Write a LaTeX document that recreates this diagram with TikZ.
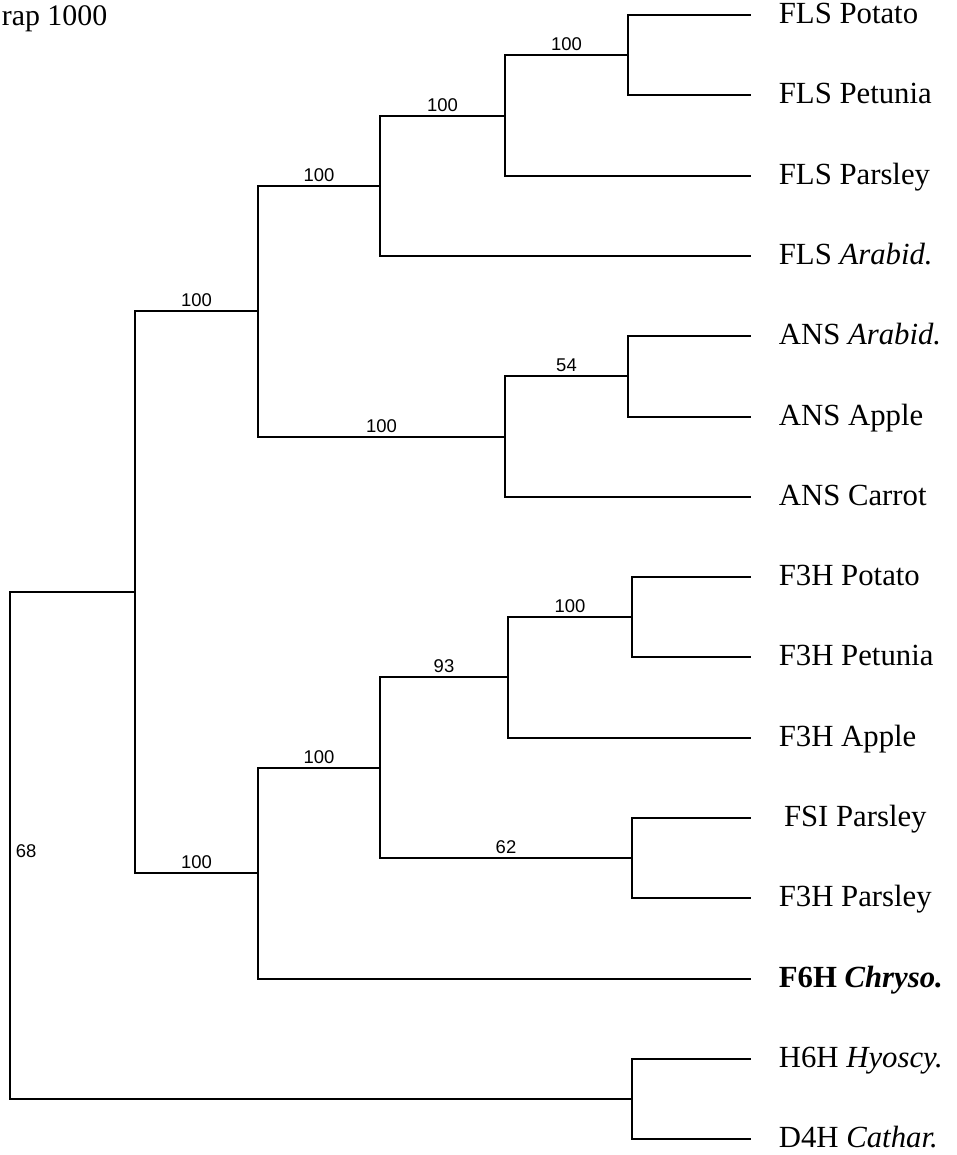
\documentclass[tikz,border=0pt]{standalone}
\usepackage{fontspec}
\setmainfont{Liberation Serif}
\newfontfamily\bootfont{Liberation Sans}
\begin{document}
\begin{tikzpicture}[
			x=0.02cm, y=-0.02cm, line width=1pt, line cap=rect,
			leaf/.style={anchor=west, inner xsep=0.56cm, inner ysep=0pt, text height=0.92em, text depth=0pt, font=\fontsize{17.5}{20}\selectfont},
			boot/.style={draw=none, above, inner sep=2pt, font=\bootfont\fontsize{10.5}{12}\selectfont},
		]
		\useasboundingbox (0, 0) rectangle (956, 1155);
		\node[anchor=base west, inner sep=0pt, font=\fontsize{17}{20}\selectfont] (title) at (1, 26) {rap 1000};

		\node[leaf] (flsPot) at (750, 15)   {FLS Potato};
		\node[leaf] (flsPet) at (750, 95)   {FLS Petunia};
		\node[leaf] (flsPar) at (750, 176)  {FLS Parsley};
		\node[leaf] (flsAra) at (750, 256)  {FLS \textit{Arabid.}};
		\node[leaf] (ansAra) at (750, 336)  {ANS \textit{Arabid.}};
		\node[leaf] (ansApp) at (750, 417)  {ANS Apple};
		\node[leaf] (ansCar) at (750, 497)  {ANS Carrot};
		\node[leaf] (fthPot) at (750, 577)  {F3H Potato};
		\node[leaf] (fthPet) at (750, 657)  {F3H Petunia};
		\node[leaf] (fthApp) at (750, 738)  {F3H Apple};
		\node[leaf] (fsiPar) at (750, 818)  {\,FSI Parsley};
		\node[leaf] (fthPar) at (750, 898)  {F3H Parsley};
		\node[leaf] (f6hChr) at (750, 979)  {\textbf{F6H \textit{Chryso.}}};
		\node[leaf] (h6hHyo) at (750, 1059) {H6H \textit{Hyoscy.}};
		\node[leaf] (d4hCat) at (750, 1139) {D4H \textit{Cathar.}};

		\coordinate (n1)   at (628, 55);
		\coordinate (n2)   at (505, 116);
		\coordinate (n3)   at (380, 186);
		\coordinate (n4)   at (628, 376);
		\coordinate (n5)   at (505, 437);
		\coordinate (n6)   at (258, 311);
		\coordinate (n7)   at (632, 617);
		\coordinate (n8)   at (508, 677);
		\coordinate (n9)   at (632, 858);
		\coordinate (n10)  at (380, 768);
		\coordinate (n11)  at (258, 873);
		\coordinate (n12)  at (135, 592);
		\coordinate (n13)  at (632, 1099);
		\coordinate (root) at (10, 846);

		% FLS clade
		\draw (n1) |- (flsPot);
		\draw (n1) |- (flsPet);
		\draw (n2) |- node[boot, pos=0.75] {100} (n1);
		\draw (n2) |- (flsPar);
		\draw (n3) |- node[boot, pos=0.75] {100} (n2);
		\draw (n3) |- (flsAra);
		\draw (n6) |- node[boot, pos=0.75] {100} (n3);

		% ANS clade
		\draw (n4) |- (ansAra);
		\draw (n4) |- (ansApp);
		\draw (n5) |- node[boot, pos=0.75] {54} (n4);
		\draw (n5) |- (ansCar);
		\draw (n6) |- node[boot, pos=0.75] {100} (n5);
		\draw (n12) |- node[boot, pos=0.75] {100} (n6);

		% F3H clade
		\draw (n7) |- (fthPot);
		\draw (n7) |- (fthPet);
		\draw (n8) |- node[boot, pos=0.75] {100} (n7);
		\draw (n8) |- (fthApp);
		\draw (n10) |- node[boot, pos=0.75] {93} (n8);
		\draw (n9) |- (fsiPar);
		\draw (n9) |- (fthPar);
		\draw (n10) |- node[boot, pos=0.75] {62} (n9);
		\draw (n11) |- node[boot, pos=0.75] {100} (n10);
		\draw (n11) |- (f6hChr);
		\draw (n12) |- node[boot, pos=0.75] {100} (n11);

		% outgroup and root
		\draw (n13) |- (h6hHyo);
		\draw (n13) |- (d4hCat);
		\draw (root) |- (n12);
		\draw (root) |- (n13);
		\node[boot, anchor=west, inner sep=0pt] (rootlabel) at (15, 851) {68};
	\end{tikzpicture}
\end{document}
